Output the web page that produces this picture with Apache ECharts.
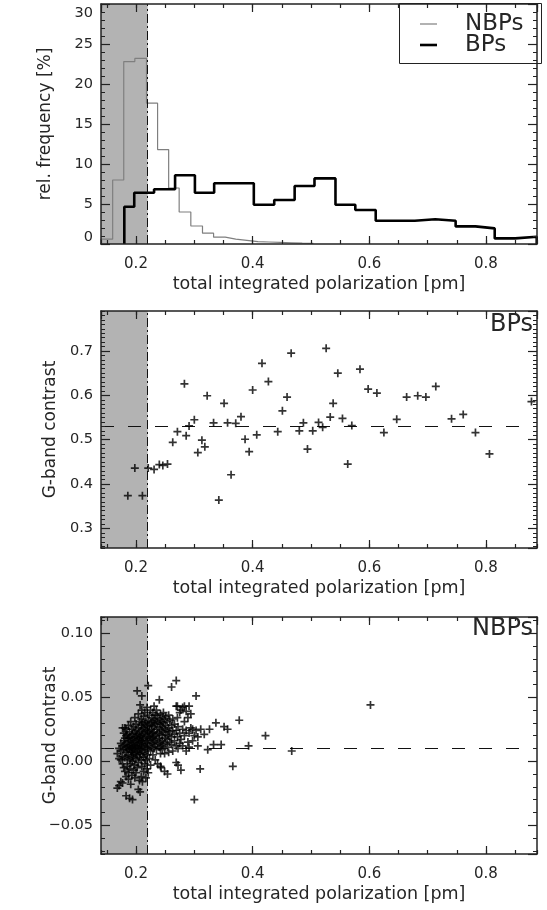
<!DOCTYPE html>
<html><head><meta charset="utf-8">
<script src="https://cdn.jsdelivr.net/npm/echarts@6/dist/echarts.min.js"></script>
<style>html,body{margin:0;padding:0;background:#fff}#c{width:547px;height:910px}</style>
</head><body><div id="c"></div>
<script>
// ---------- data ----------
const xTickLabels = [0.2, 0.4, 0.6, 0.8];
const threshold = 0.22;

// histogram (top panel): bin edges and relative frequency [%]
const nbpEdges = [0.14, 0.160, 0.179, 0.198, 0.218, 0.237, 0.256, 0.274, 0.294, 0.314, 0.333, 0.353, 0.371, 0.390, 0.409, 0.428, 0.447, 0.466, 0.485, 0.504];
const nbpFreq  = [0.6, 8.0, 22.8, 23.2, 17.6, 11.8, 7.0, 4.0, 2.25, 1.35, 0.85, 0.6, 0.45, 0.3, 0.25, 0.2, 0.15, 0.1, 0.08];
const bpEdges  = [0.180, 0.197, 0.231, 0.267, 0.301, 0.334, 0.368, 0.402, 0.437, 0.472, 0.506, 0.542, 0.576, 0.611, 0.645, 0.678, 0.713, 0.748, 0.782, 0.815, 0.850, 0.887];
const bpFreq   = [4.65, 6.4, 6.85, 8.6, 6.4, 7.6, 7.6, 4.9, 5.5, 7.25, 8.2, 4.9, 4.25, 2.9, 2.9, 3.1, 2.9, 2.2, 1.95, 0.7, 0.9];

// middle panel: BPs  [total integrated polarization, G-band contrast]
const bpPoints = [[0.186,0.374],[0.198,0.436],[0.211,0.374],[0.221,0.436],[0.231,0.433],[0.240,0.444],[0.246,0.442],[0.254,0.445],[0.263,0.494],[0.271,0.518],[0.283,0.626],[0.286,0.509],[0.291,0.531],[0.300,0.545],[0.306,0.471],[0.313,0.499],[0.318,0.484],[0.322,0.599],[0.333,0.538],[0.342,0.364],[0.351,0.582],[0.357,0.538],[0.363,0.421],[0.371,0.537],[0.380,0.552],[0.387,0.501],[0.394,0.473],[0.400,0.612],[0.407,0.511],[0.416,0.672],[0.427,0.631],[0.443,0.518],[0.451,0.565],[0.459,0.596],[0.466,0.695],[0.480,0.520],[0.487,0.538],[0.494,0.479],[0.503,0.520],[0.513,0.539],[0.520,0.528],[0.526,0.706],[0.533,0.551],[0.538,0.582],[0.546,0.650],[0.554,0.548],[0.563,0.445],[0.570,0.532],[0.584,0.659],[0.598,0.614],[0.613,0.605],[0.625,0.516],[0.647,0.546],[0.664,0.596],[0.683,0.599],[0.697,0.596],[0.714,0.620],[0.741,0.547],[0.761,0.557],[0.782,0.516],[0.806,0.468],[0.878,0.586]];
const bpMean = 0.532;

// bottom panel: NBPs
const nbpPoints = [
[0.168,-0.021],[0.168,0.006],
[0.171,-0.019],[0.171,0.002],[0.171,0.010],
[0.174,-0.016],[0.174,0.008],[0.174,0.014],[0.174,0.001],
[0.177,-0.017],[0.177,0.012],[0.177,0.026],[0.177,0.004],[0.177,-0.002],
[0.179,0.022],[0.179,0.009],[0.179,0.016],[0.179,-0.005],
[0.181,0.026],[0.181,0.013],[0.181,0.003],[0.181,-0.008],[0.181,0.018],
[0.183,-0.027],[0.183,0.020],[0.183,0.007],[0.183,0.011],[0.183,0.025],[0.183,-0.012],
[0.185,0.015],[0.185,0.002],[0.185,-0.004],[0.185,0.009],[0.185,0.021],
[0.187,0.012],[0.187,0.018],[0.187,-0.009],[0.187,0.005],[0.187,0.028],[0.187,-0.014],
[0.189,-0.029],[0.189,0.010],[0.189,0.023],[0.189,0.001],[0.189,0.016],[0.189,-0.006],
[0.191,0.008],[0.191,0.013],[0.191,0.019],[0.191,-0.002],[0.191,0.031],[0.191,-0.018],
[0.193,0.004],[0.193,0.011],[0.193,0.025],[0.193,0.017],[0.193,-0.011],[0.193,0.007],
[0.194,-0.030],[0.194,0.014],[0.194,0.021],[0.194,0.000],[0.194,0.009],
[0.196,0.018],[0.196,0.006],[0.196,0.012],[0.196,-0.007],[0.196,0.027],[0.196,0.003],
[0.198,0.010],[0.198,0.022],[0.198,0.015],[0.198,-0.003],[0.198,0.034],[0.198,-0.013],
[0.200,0.007],[0.200,0.019],[0.200,0.012],[0.200,0.002],[0.200,0.029],[0.200,-0.009],[0.200,0.024],
[0.202,0.055],[0.202,0.016],[0.202,0.005],[0.202,0.021],[0.202,-0.005],[0.202,0.011],
[0.204,-0.022],[0.204,0.013],[0.204,0.026],[0.204,0.008],[0.204,0.018],[0.204,-0.001],[0.204,0.037],
[0.206,0.020],[0.206,0.010],[0.206,0.003],[0.206,0.031],[0.206,0.015],[0.206,-0.015],
[0.207,-0.024],[0.207,0.044],[0.207,0.017],[0.207,0.006],[0.207,0.023],
[0.209,-0.012],[0.209,0.012],[0.209,0.028],[0.209,0.001],[0.209,0.019],[0.209,0.009],[0.209,0.033],
[0.210,0.051],[0.210,0.025],[0.210,0.014],[0.210,-0.004],[0.210,0.040],
[0.211,-0.016],[0.211,0.007],[0.211,0.021],[0.211,0.016],[0.211,0.030],
[0.213,0.018],[0.213,0.011],[0.213,0.026],[0.213,-0.008],[0.213,0.003],[0.213,0.035],
[0.215,0.022],[0.215,0.013],[0.215,0.029],[0.215,0.006],[0.215,0.038],[0.215,-0.002],
[0.217,-0.013],[0.217,0.016],[0.217,0.024],[0.217,0.010],[0.217,0.031],[0.217,0.001],
[0.219,0.020],[0.219,0.027],[0.219,0.014],[0.219,0.042],[0.219,0.005],[0.219,-0.006],
[0.221,-0.009],[0.221,0.059],[0.221,0.023],[0.221,0.017],[0.221,0.032],[0.221,0.009],
[0.223,0.019],[0.223,0.028],[0.223,0.012],[0.223,0.036],[0.223,0.002],[0.223,0.024],
[0.225,0.015],[0.225,0.030],[0.225,0.021],[0.225,-0.003],[0.225,0.040],[0.225,0.008],
[0.227,0.025],[0.227,0.018],[0.227,0.034],[0.227,0.011],[0.227,0.028],
[0.229,0.022],[0.229,0.031],[0.229,0.014],[0.229,0.038],[0.229,0.005],[0.229,0.019],
[0.231,0.043],[0.231,0.027],[0.231,0.016],[0.231,0.033],[0.231,0.010],[0.231,0.023],
[0.233,0.020],[0.233,0.029],[0.233,0.036],[0.233,0.013],[0.233,0.001],
[0.235,0.025],[0.235,0.017],[0.235,0.032],[0.235,0.040],[0.235,0.009],
[0.237,0.022],[0.237,0.030],[0.237,0.014],[0.237,0.036],[0.237,-0.002],
[0.240,0.048],[0.240,0.026],[0.240,0.018],[0.240,0.033],[0.240,0.011],[0.240,0.021],
[0.242,0.029],[0.242,0.015],[0.242,0.037],[0.242,0.006],[0.242,-0.004],
[0.243,-0.005],[0.243,0.024],[0.243,0.031],[0.243,0.012],
[0.245,0.020],[0.245,0.034],[0.245,0.027],[0.245,0.009],[0.245,0.016],
[0.247,0.030],[0.247,0.013],[0.247,0.038],[0.247,0.023],
[0.249,-0.008],[0.249,0.025],[0.249,0.018],[0.249,0.033],[0.249,0.006],
[0.251,0.028],[0.251,0.014],[0.251,0.021],[0.251,0.035],
[0.254,-0.010],[0.254,0.024],[0.254,0.031],[0.254,0.011],[0.254,0.017],
[0.256,0.026],[0.256,0.020],[0.256,0.036],[0.256,0.007],
[0.258,0.032],[0.258,0.015],[0.258,0.023],
[0.261,0.058],[0.261,0.028],[0.261,0.013],[0.261,0.019],
[0.263,0.024],[0.263,0.033],[0.263,0.008],
[0.266,0.029],[0.266,0.016],[0.266,0.021],
[0.269,0.063],[0.269,-0.001],[0.269,0.043],[0.269,0.024],[0.269,0.012],
[0.271,0.043],[0.271,0.034],[0.271,0.019],
[0.272,-0.003],[0.272,0.027],[0.272,0.010],
[0.275,0.038],[0.275,0.022],[0.275,0.014],
[0.277,-0.007],[0.277,0.040],[0.277,0.017],
[0.280,0.042],[0.280,0.025],[0.280,0.012],
[0.283,0.043],[0.283,0.031],[0.283,0.020],
[0.286,0.008],[0.286,0.039],[0.286,0.024],
[0.289,0.034],[0.289,0.015],
[0.291,0.043],[0.291,0.022],[0.291,0.011],
[0.294,0.037],[0.294,0.026],
[0.297,0.025],[0.297,0.016],
[0.300,-0.030],[0.300,0.020],
[0.303,0.051],[0.303,0.024],
[0.306,0.012],[0.306,0.019],
[0.310,-0.006],[0.311,0.025],[0.317,0.021],[0.323,0.009],[0.326,0.025],[0.333,0.013],
[0.337,0.030],[0.346,0.013],[0.351,0.027],[0.357,0.025],[0.366,-0.004],[0.377,0.032],
[0.393,0.012],[0.422,0.020],[0.467,0.008],[0.602,0.044]
];
const nbpMean = 0.012;

// axis ranges / tick steps
const X_MIN = 0.14, X_MAX = 0.8875;
const panelY = [
  {min: 0, max: 30, major: 5, minor: 1, name: 'rel. frequency [%]'},
  {min: 0.256, max: 0.79, major: 0.1, minor: 0.01, name: 'G-band contrast'},
  {min: -0.0725, max: 0.1127, major: 0.05, minor: 0.01, name: 'G-band contrast'}
];

// ---------- styling ----------
const FONT = 'DejaVu Sans';
const AX = '#222';
const TXT = '#262626';

function isMult(v, step) { const r = v / step; return Math.abs(r - Math.round(r)) < 1e-6; }

const xAxes = [], yAxes = [];
function addX(g) {
  const base = {type: 'value', gridIndex: g, min: X_MIN, max: X_MAX, splitLine: {show: false}, z: 6};
  const major = {minInterval: 0.2, maxInterval: 0.2, splitNumber: 4};
  const minor = {minInterval: 0.05, maxInterval: 0.05, splitNumber: 15};
  xAxes.push(Object.assign({}, base, major, {
    position: 'bottom',
    axisLine: {show: true, onZero: false, lineStyle: {color: AX, width: 1.5}},
    axisTick: {show: true, inside: true, length: 8, lineStyle: {color: AX, width: 1.2}},
    axisLabel: {show: true, showMinLabel: false, showMaxLabel: false, margin: 13, fontSize: 15, fontFamily: FONT, color: TXT,
      formatter: v => (xTickLabels.some(t => Math.abs(t - v) < 1e-6) ? v.toFixed(1) : '')},
    name: 'total integrated polarization [pm]', nameLocation: 'middle', nameGap: 31, nameMoveOverlap: false,
    nameTextStyle: {fontSize: 17.5, fontFamily: FONT, color: TXT}
  }));
  xAxes.push(Object.assign({}, base, major, {
    position: 'top',
    axisLine: {show: true, onZero: false, lineStyle: {color: AX, width: 1.5}},
    axisTick: {show: true, inside: true, length: 8, lineStyle: {color: AX, width: 1.2}},
    axisLabel: {show: false}
  }));
  ['bottom', 'top'].forEach(p => xAxes.push(Object.assign({}, base, minor, {
    position: p,
    axisLine: {show: false, onZero: false},
    axisTick: {show: true, inside: true, length: 4, lineStyle: {color: AX, width: 1.2}},
    axisLabel: {show: false}
  })));
}
function addY(g, fmt, nameGap, rich) {
  const P = panelY[g];
  const base = {type: 'value', gridIndex: g, min: P.min, max: P.max, splitLine: {show: false}, z: 6};
  const nMaj = Math.round((P.max - P.min) / P.major), nMin = Math.round((P.max - P.min) / P.minor);
  const major = {minInterval: P.major, maxInterval: P.major, splitNumber: nMaj};
  const minor = {minInterval: P.minor, maxInterval: P.minor, splitNumber: nMin};
  yAxes.push(Object.assign({}, base, major, {
    position: 'left',
    axisLine: {show: true, onZero: false, lineStyle: {color: AX, width: 1.5}},
    axisTick: {show: true, inside: true, length: 9, lineStyle: {color: AX, width: 1.2}},
    axisLabel: {show: true, showMinLabel: P.min === 0, showMaxLabel: P.max === 30, margin: 8, fontSize: 14.5, fontFamily: FONT, color: TXT,
      formatter: v => (isMult(v, P.major) ? fmt(v) : ''), rich: rich},
    name: P.name, nameLocation: 'middle', nameGap: nameGap, nameMoveOverlap: false,
    nameTextStyle: {fontSize: 17, fontFamily: FONT, color: TXT}
  }));
  yAxes.push(Object.assign({}, base, major, {
    position: 'right',
    axisLine: {show: true, onZero: false, lineStyle: {color: AX, width: 1.5}},
    axisTick: {show: true, inside: true, length: 9, lineStyle: {color: AX, width: 1.2}},
    axisLabel: {show: false}
  }));
  ['left', 'right'].forEach(p => yAxes.push(Object.assign({}, base, minor, {
    position: p,
    axisLine: {show: false, onZero: false},
    axisTick: {show: true, inside: true, length: 4, lineStyle: {color: AX, width: 1}},
    axisLabel: {show: false}
  })));
}

addX(0); addX(1); addX(2);
addY(0, v => (Math.abs(v) < 1e-9 ? '{lo|0}' : (Math.abs(v - 30) < 1e-9 ? '{hi|30}' : String(Math.round(v)))), 47,
  {lo: {fontSize: 14.5, fontFamily: FONT, color: TXT, padding: [0, 0, 14, 0]},
   hi: {fontSize: 14.5, fontFamily: FONT, color: TXT, padding: [18, 0, 0, 0]}});
addY(1, v => v.toFixed(1), 42);
addY(2, v => v.toFixed(2).replace('-', '\u2212'), 42);

function stepData(edges, freq) {
  const d = [[edges[0], 0]];
  for (let i = 0; i < freq.length; i++) d.push([edges[i], freq[i]]);
  d.push([edges[edges.length - 1], freq[freq.length - 1]]);
  d.push([edges[edges.length - 1], 0]);
  return d;
}

const plus = 'path://M0,5L10,5M5,0L5,10';
const markerStyle = {color: 'rgba(0,0,0,0)', borderColor: '#000', borderWidth: 1.7};
const dashDot = {type: [9, 3, 2, 3], color: '#111', width: 1};

function shade(g) {
  return {type: 'line', name: 'shade' + g, xAxisIndex: g * 4, yAxisIndex: g * 4, data: [], z: 1, silent: true,
    markArea: {silent: true, itemStyle: {color: '#b3b3b3'}, data: [[{xAxis: X_MIN}, {xAxis: threshold}]]}};
}
function marks(g, hy) {
  const data = [{xAxis: threshold, lineStyle: dashDot}];
  if (hy !== undefined) data.push({yAxis: hy, lineStyle: {type: [13, 14], color: '#111', width: 1}});
  return {type: 'line', name: 'marks' + g, xAxisIndex: g * 4, yAxisIndex: g * 4, data: [], z: 4, silent: true,
    markLine: {silent: true, symbol: ['none', 'none'], label: {show: false}, data: data}};
}

const NBP_COLOR = '#7f7f7f';
const option = {
  animation: false,
  grid: [
    {left: 101, width: 436, top: 4, height: 240},
    {left: 101, width: 436, top: 311, height: 237},
    {left: 101, width: 436, top: 617, height: 237}
  ],
  xAxis: xAxes,
  yAxis: yAxes,
  graphic: [
    // legend box of the top panel
    {type: 'rect', z: 10, shape: {x: 399.5, y: 3.5, width: 142, height: 60}, style: {fill: 'rgba(0,0,0,0)', stroke: '#222', lineWidth: 1}},
    {type: 'line', z: 10, shape: {x1: 420, y1: 24, x2: 437, y2: 24}, style: {stroke: NBP_COLOR, lineWidth: 1.2}},
    {type: 'text', z: 10, x: 465, y: 24, style: {text: 'NBPs', fontSize: 23, fontFamily: FONT, fill: TXT, verticalAlign: 'middle'}},
    {type: 'line', z: 10, shape: {x1: 420, y1: 45, x2: 437, y2: 45}, style: {stroke: '#000', lineWidth: 2.6}},
    {type: 'text', z: 10, x: 465, y: 45, style: {text: 'BPs', fontSize: 23, fontFamily: FONT, fill: TXT, verticalAlign: 'middle'}},
    // panel labels
    {type: 'text', z: 10, right: 14, top: 313, style: {text: 'BPs', fontSize: 24, fontFamily: FONT, fill: TXT}},
    {type: 'text', z: 10, right: 14, top: 617, style: {text: 'NBPs', fontSize: 24, fontFamily: FONT, fill: TXT}}
  ],
  series: [
    shade(0), shade(1), shade(2),
    {type: 'line', name: 'NBPs', xAxisIndex: 0, yAxisIndex: 0, step: 'end', symbol: 'none', z: 2,
      lineStyle: {color: NBP_COLOR, width: 1.2}, itemStyle: {color: NBP_COLOR}, data: stepData(nbpEdges, nbpFreq)},
    {type: 'line', name: 'BPs', xAxisIndex: 0, yAxisIndex: 0, step: 'end', symbol: 'none', z: 3,
      lineStyle: {color: '#000', width: 2.6}, itemStyle: {color: '#000'}, data: stepData(bpEdges, bpFreq)},
    {type: 'scatter', name: 'BPs contrast', xAxisIndex: 4, yAxisIndex: 4, symbol: plus, symbolSize: 8, z: 5,
      itemStyle: markerStyle, data: bpPoints},
    {type: 'scatter', name: 'NBPs contrast', xAxisIndex: 8, yAxisIndex: 8, symbol: plus, symbolSize: 8, z: 5,
      itemStyle: markerStyle, data: nbpPoints},
    marks(0), marks(1, bpMean), marks(2, nbpMean)
  ]
};
const chart = echarts.init(document.getElementById('c'), null, {renderer: 'canvas'});
chart.setOption(option);
</script>
</body></html>
